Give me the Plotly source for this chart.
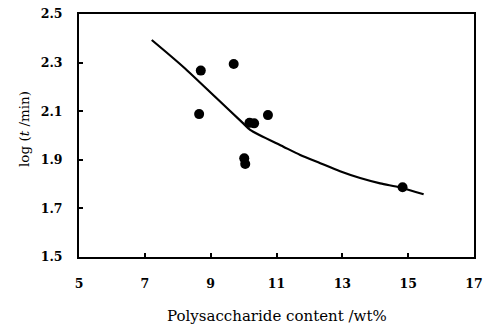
import plotly.graph_objects as go

# Measured data points
pts_x = [8.70, 9.70, 8.65, 10.74, 10.18, 10.32, 10.02, 10.05, 14.83]
pts_y = [2.267, 2.294, 2.088, 2.084, 2.052, 2.050, 1.906, 1.883, 1.787]

# Fitted curve
curve_x = [7.21, 8.17, 9.19, 9.99, 10.20, 11.21, 11.72, 12.33, 12.93, 13.54, 14.15, 14.76, 15.47]
curve_y = [2.393, 2.282, 2.152, 2.050, 2.023, 1.954, 1.920, 1.886, 1.853, 1.825, 1.803, 1.786, 1.758]

x_ticks = [5, 7, 9, 11, 13, 15, 17]
y_ticks = [1.5, 1.7, 1.9, 2.1, 2.3, 2.5]

FONT = "DejaVu Serif"
L, R, T, B = 79, 15, 14, 72
W, H = 489, 329
PW, PH = W - L - R, H - T - B

fig = go.Figure()
fig.add_trace(go.Scatter(x=curve_x, y=curve_y, mode="lines",
                         line=dict(color="black", width=2.2, shape="spline", smoothing=0.8),
                         hoverinfo="skip", showlegend=False))
fig.add_trace(go.Scatter(x=pts_x, y=pts_y, mode="markers",
                         marker=dict(color="black", size=10),
                         showlegend=False))

axis_common = dict(showgrid=False, zeroline=False, showline=True, linecolor="black",
                   linewidth=2, mirror=True, ticks="inside", ticklen=4, tickwidth=1.5,
                   tickcolor="black", automargin=False,
                   tickfont=dict(family=FONT, size=12.5, weight="bold", color="black"))

fig.update_layout(
    width=W, height=H,
    margin=dict(l=L, r=R, t=T, b=B),
    paper_bgcolor="white", plot_bgcolor="white",
    font=dict(family=FONT, color="black", size=13),
    xaxis=dict(range=[5, 17], tickvals=x_ticks, ticktext=[str(v) for v in x_ticks],
               ticklabelstandoff=14, **axis_common),
    yaxis=dict(range=[1.5, 2.5], tickvals=y_ticks, ticktext=[f"{v:.1f}" for v in y_ticks],
               ticklabelstandoff=12, **axis_common),
    annotations=[
        dict(text="Polysaccharide content /wt%", xref="paper", yref="paper",
             x=(276.5 - L) / PW, y=-(316 - (H - B)) / PH,
             xanchor="center", yanchor="middle", showarrow=False,
             font=dict(family=FONT, size=15)),
        dict(text="log (<i>t</i> /min)", textangle=-90, xref="paper", yref="paper",
             x=-(L - 24) / PW, y=((H - B) - 129) / PH,
             xanchor="center", yanchor="middle", showarrow=False,
             font=dict(family=FONT, size=13.5)),
    ],
)

fig.write_html("out.html", config={"displayModeBar": False},
               post_script="document.body.style.margin='0';document.body.style.padding='0';")
